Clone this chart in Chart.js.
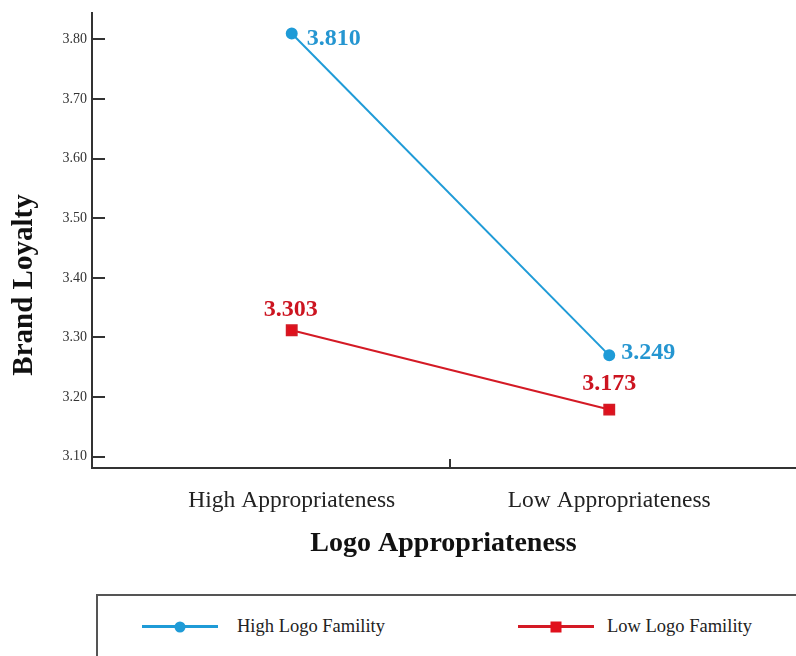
<!DOCTYPE html>
<html lang="en">
<head>
<meta charset="UTF-8">
<title>Brand Loyalty</title>
<script src="https://cdn.jsdelivr.net/npm/chart.js"></script>
<style>
  body { margin: 0; background: #fff; font-family: 'Liberation Serif', serif; }
  .wrap { position: relative; width: 796px; height: 656px; overflow: hidden; }
  #chart { position: absolute; left: 0; top: 0; }
  .legend {
    position: absolute; left: 96px; top: 594px; width: 760px; height: 90px;
    border: 2px solid #555;
  }
  .item { position: absolute; top: 20px; display: flex; align-items: center; font-size: 18.5px; color: #222; }
  .swatch { position: relative; width: 76px; height: 3px; margin-right: 19px; }
  .swatch i { position: absolute; left: 50%; top: 50%; transform: translate(-50%, -50%); }
</style>
</head>
<body>
<div class="wrap">
  <!-- canvas a little wider than the page so the x axis runs off the right edge -->
  <canvas id="chart" width="804" height="570"></canvas>
  <div class="legend">
    <div class="item" style="left:44px">
      <span class="swatch" style="background:#1f9bd7"><i style="width:11px;height:11px;border-radius:50%;background:#1f9bd7"></i></span>
      High Logo Famility
    </div>
    <div class="item" style="left:420px">
      <span class="swatch" style="background:#d41a25;margin-right:13px"><i style="width:11px;height:11px;background:#e0101c"></i></span>
      Low Logo Famility
    </div>
  </div>
</div>
<script>
// categories and plotted means
const categories = ['High Appropriateness', 'Low Appropriateness'];
const highFamily = [3.810, 3.270];
const lowFamily = [3.312, 3.179];
// printed value labels
const highLabels = ['3.810', '3.249'];
const lowLabels = ['3.303', '3.173'];
const yTicks = [3.10, 3.20, 3.30, 3.40, 3.50, 3.60, 3.70, 3.80];

const BLUE = '#1f9bd7';
const RED = '#d41a25';

// tick marks drawn inward, SPSS style
const innerTicks = {
  id: 'innerTicks',
  afterDraw(chart) {
    const { ctx, chartArea, scales } = chart;
    ctx.save();
    ctx.strokeStyle = '#333';
    ctx.lineWidth = 2;
    ctx.beginPath();
    yTicks.forEach(v => {
      const y = Math.round(scales.y.getPixelForValue(v));
      ctx.moveTo(chartArea.left, y);
      ctx.lineTo(chartArea.left + 13, y);
    });
    const mx = Math.round(scales.x.getPixelForValue(0.5));
    ctx.moveTo(mx, chartArea.bottom);
    ctx.lineTo(mx, chartArea.bottom - 9);
    ctx.stroke();
    ctx.restore();
  }
};

// y title placed a bit lower than the axis centre, as in the original
const yTitle = {
  id: 'yTitle',
  afterDraw(chart) {
    const ctx = chart.ctx;
    ctx.save();
    ctx.translate(25, 285);
    ctx.rotate(-Math.PI / 2);
    ctx.font = 'bold 29px "Liberation Serif"';
    ctx.fillStyle = '#111';
    ctx.textAlign = 'center';
    ctx.textBaseline = 'middle';
    ctx.fillText('Brand Loyalty', 0, 0);
    ctx.restore();
  }
};

const valueLabels = {
  id: 'valueLabels',
  afterDatasetsDraw(chart, args, opts) {
    const ctx = chart.ctx;
    ctx.save();
    ctx.font = 'bold 24px "Liberation Serif"';
    ctx.textBaseline = 'middle';
    chart.data.datasets.forEach((ds, di) => {
      const meta = chart.getDatasetMeta(di);
      const offs = opts.offsets[di];
      ctx.fillStyle = opts.colors[di];
      ctx.textAlign = opts.align[di];
      meta.data.forEach((pt, i) => {
        ctx.fillText(ds.valueText[i], pt.x + offs[i][0], pt.y + offs[i][1]);
      });
    });
    ctx.restore();
  }
};

new Chart(document.getElementById('chart'), {
  type: 'line',
  data: {
    datasets: [
      {
        label: 'High Logo Famility',
        data: highFamily.map((v, i) => ({ x: i, y: v })),
        valueText: highLabels,
        borderColor: BLUE,
        backgroundColor: BLUE,
        borderWidth: 2,
        pointStyle: 'circle',
        pointRadius: 5,
        pointHoverRadius: 5
      },
      {
        label: 'Low Logo Famility',
        data: lowFamily.map((v, i) => ({ x: i, y: v })),
        valueText: lowLabels,
        borderColor: RED,
        backgroundColor: '#e0101c',
        borderWidth: 2,
        pointStyle: 'rect',
        pointRadius: 7,
        pointHoverRadius: 7
      }
    ]
  },
  options: {
    responsive: false,
    animation: false,
    layout: { padding: { top: 12, right: 0, left: 0, bottom: 0 } },
    plugins: {
      legend: { display: false },
      tooltip: { enabled: false },
      valueLabels: {
        colors: ['#2596d1', '#cc1420'],
        align: ['left', 'center'],
        offsets: [[[15, 5], [12, -3]], [[-1, -20], [0, -26]]]
      }
    },
    scales: {
      x: {
        type: 'linear',
        min: -0.629,
        max: 1.585,
        afterBuildTicks: s => { s.ticks = [{ value: 0 }, { value: 0.5 }, { value: 1 }]; },
        afterFit: s => { s.height = 102; },
        grid: { display: false, tickLength: 0 },
        border: { display: true, color: '#333', width: 2 },
        ticks: {
          padding: 19,
          color: '#222',
          font: { family: 'Liberation Serif', size: 23.5 },
          callback: v => Number.isInteger(v) ? categories[v] : ''
        },
        title: {
          display: true,
          text: 'Logo Appropriateness',
          color: '#111',
          font: { family: 'Liberation Serif', size: 28, weight: 'bold' },
          padding: { bottom: 9 }
        }
      },
      y: {
        min: 3.081,
        max: 3.8436,
        afterBuildTicks: s => { s.ticks = yTicks.map(v => ({ value: v })); },
        afterFit: s => { s.width = 92; },
        grid: { display: false, tickLength: 0 },
        border: { display: true, color: '#333', width: 2 },
        ticks: {
          padding: 5,
          color: '#333',
          font: { family: 'Liberation Serif', size: 14 },
          callback: v => v.toFixed(2)
        },
        title: { display: false }
      }
    }
  },
  plugins: [innerTicks, yTitle, valueLabels]
});
</script>
</body>
</html>
